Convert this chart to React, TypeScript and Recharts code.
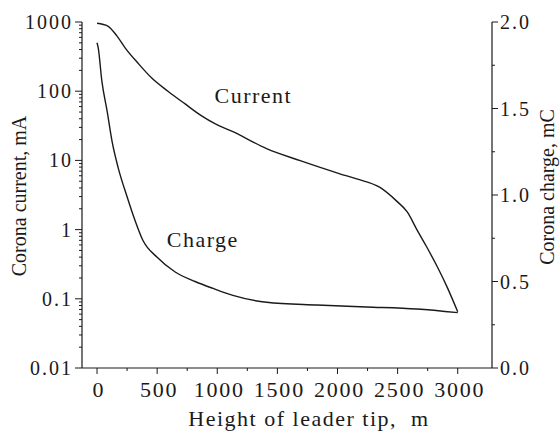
import {
  ComposedChart,
  Line,
  XAxis,
  YAxis,
  ReferenceDot,
} from 'recharts'

// Current curve (left, log axis, mA)
const currentHeight = [0, 90, 165, 235, 340, 455, 590, 730, 870, 980, 1130, 1410, 1690, 2020, 2160, 2350, 2490, 2580, 2660, 2740, 2830, 2910, 3000]
const currentMA = [960, 875, 630, 420, 255, 155, 100, 66, 44, 34, 26, 14.8, 9.9, 6.4, 5.4, 4.1, 2.6, 1.8, 1.0, 0.57, 0.29, 0.15, 0.065]

// Charge curve (right, linear axis, mC)
const chargeHeight = [0, 10, 40, 85, 125, 175, 250, 315, 380, 500, 650, 815, 965, 1130, 1410, 1830, 2240, 2660, 3000]
const chargeMC = [1.88, 1.85, 1.66, 1.48, 1.31, 1.16, 0.99, 0.855, 0.74, 0.64, 0.555, 0.5, 0.46, 0.42, 0.38, 0.364, 0.353, 0.341, 0.32]

const leftMajor = [0.01, 0.1, 1, 10, 100, 1000]
const leftLabels = ['0.01', '0.1', '1', '10', '100', '1000']
const rightMajor = [0, 0.5, 1, 1.5, 2]
const rightLabels = ['0.0', '0.5', '1.0', '1.5', '2.0']
const xMajor = [0, 500, 1000, 1500, 2000, 2500, 3000]
const xLabels = ['0', '500', '1000', '1500', '2000', '2500', '3000']

const leftTicks: number[] = []
leftMajor.forEach((d, i) => {
  leftTicks.push(d)
  if (i < leftMajor.length - 1) for (let k = 2; k <= 9; k++) leftTicks.push(+(d * k).toPrecision(3))
})
const rightTicks = [0, 0.25, 0.5, 0.75, 1, 1.25, 1.5, 1.75, 2]
const xTicks = [0, 250, 500, 750, 1000, 1250, 1500, 1750, 2000, 2250, 2500, 2750, 3000]

const currentData = currentHeight.map((h, i) => ({ h, v: currentMA[i] }))
const chargeData = chargeHeight.map((h, i) => ({ h, v: chargeMC[i] }))

const font = 'Liberation Serif, Tinos, Times New Roman, DejaVu Serif, serif'
const ink = '#1a1a1a'

const LeftTick = ({ x, y, payload }: any) => {
  const idx = leftMajor.findIndex((m) => Math.abs(m - payload.value) < 1e-9)
  const major = idx >= 0
  return (
    <g>
      <line x1={x - (major ? 7 : 3)} x2={x} y1={y} y2={y} stroke={ink} strokeWidth={1} />
      {major && (
        <text x={x - 9} y={y} textAnchor="end" dominantBaseline="central" style={{ fontFamily: font }} fontSize={20} letterSpacing={2} fill={ink}>
          {leftLabels[idx]}
        </text>
      )}
    </g>
  )
}

const RightTick = ({ x, y, payload }: any) => {
  const idx = rightMajor.findIndex((m) => Math.abs(m - payload.value) < 1e-9)
  const major = idx >= 0
  return (
    <g>
      <line x1={x} x2={x + (major ? 6 : 3)} y1={y} y2={y} stroke={ink} strokeWidth={1} />
      {major && (
        <text x={x + 8} y={y} textAnchor="start" dominantBaseline="central" style={{ fontFamily: font }} fontSize={20} letterSpacing={2} fill={ink}>
          {rightLabels[idx]}
        </text>
      )}
    </g>
  )
}

const BottomTick = ({ x, y, payload }: any) => {
  const idx = xMajor.indexOf(payload.value)
  const major = idx >= 0
  return (
    <g>
      <line x1={x} x2={x} y1={y} y2={y + (major ? 6 : 3)} stroke={ink} strokeWidth={1} />
      {major && (
        <text x={x + 2} y={y + 21} textAnchor="middle" dominantBaseline="central" style={{ fontFamily: font }} fontSize={22} letterSpacing={1.8} fill={ink}>
          {xLabels[idx]}
        </text>
      )}
    </g>
  )
}

const LeftTitle = ({ viewBox }: any) => {
  const cx = viewBox.x + 19
  const cy = viewBox.y + viewBox.height / 2 + 1
  return (
    <text x={cx} y={cy} transform={`rotate(-90 ${cx} ${cy})`} textAnchor="middle" dominantBaseline="central" style={{ fontFamily: font }} fontSize={20} fill={ink}>
      Corona current, mA
    </text>
  )
}

const RightTitle = ({ viewBox }: any) => {
  const cx = viewBox.x + 55
  const cy = viewBox.y + viewBox.height / 2 - 8
  return (
    <text x={cx} y={cy} transform={`rotate(-90 ${cx} ${cy})`} textAnchor="middle" dominantBaseline="central" style={{ fontFamily: font }} fontSize={20} fill={ink}>
      Corona charge, mC
    </text>
  )
}

const BottomTitle = ({ viewBox }: any) => (
  <text x={viewBox.x + viewBox.width / 2 + 22} y={viewBox.y + 50} textAnchor="middle" dominantBaseline="central" fontSize={22} letterSpacing={1.5} fill={ink} style={{ whiteSpace: 'pre', fontFamily: font }}>
    {'Height of leader tip,  m'}
  </text>
)

export default function App() {
  return (
    <div style={{ position: 'absolute', left: 0, top: 0, background: '#fff', fontFamily: font }}>
      <ComposedChart width={560} height={437} margin={{ top: 22, right: 0, bottom: 0, left: 0 }}>
        <XAxis
          dataKey="h"
          type="number"
          domain={[-125, 3285]}
          ticks={xTicks}
          interval={0}
          allowDataOverflow
          height={69}
          tickSize={0}
          tickMargin={0}
          tickLine={false}
          tick={<BottomTick />}
          axisLine={{ stroke: ink, strokeWidth: 1.2 }}
          label={<BottomTitle />}
        />
        <YAxis
          yAxisId="left"
          scale="log"
          type="number"
          domain={[0.01, 1000]}
          ticks={leftTicks}
          interval={0}
          allowDataOverflow
          width={82}
          tickSize={0}
          tickMargin={0}
          tickLine={false}
          tick={<LeftTick />}
          axisLine={{ stroke: ink, strokeWidth: 1.2 }}
          label={<LeftTitle />}
        />
        <YAxis
          yAxisId="right"
          orientation="right"
          type="number"
          domain={[0, 2]}
          ticks={rightTicks}
          interval={0}
          allowDataOverflow
          width={68}
          tickSize={0}
          tickMargin={0}
          tickLine={false}
          tick={<RightTick />}
          axisLine={{ stroke: ink, strokeWidth: 1.2 }}
          label={<RightTitle />}
        />
        <Line
          yAxisId="left"
          data={currentData}
          dataKey="v"
          type="monotone"
          stroke={ink}
          strokeWidth={1.4}
          dot={false}
          isAnimationActive={false}
        />
        <Line
          yAxisId="right"
          data={chargeData}
          dataKey="v"
          type="monotone"
          stroke={ink}
          strokeWidth={1.4}
          dot={false}
          isAnimationActive={false}
        />
        <ReferenceDot
          yAxisId="left"
          x={1300}
          y={87}
          r={0}
          fill="none"
          stroke="none"
          label={{ value: 'Current', position: 'center', style: { fontFamily: font }, fontSize: 22, letterSpacing: 1.5, fill: ink }}
        />
        <ReferenceDot
          yAxisId="left"
          x={880}
          y={0.72}
          r={0}
          fill="none"
          stroke="none"
          label={{ value: 'Charge', position: 'center', style: { fontFamily: font }, fontSize: 22, letterSpacing: 1.5, fill: ink }}
        />
      </ComposedChart>
    </div>
  )
}
